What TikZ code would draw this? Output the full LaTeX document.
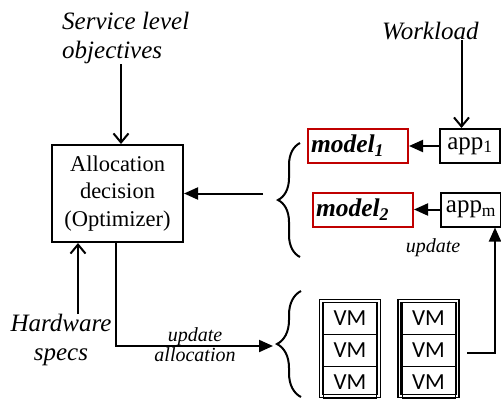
\documentclass[tikz,border=0pt]{standalone}
\usepackage{fontspec}
\setmainfont{Liberation Serif}[ItalicFont={Liberation Serif Italic},BoldItalicFont={Liberation Serif Bold Italic}]
\newfontfamily\vmfont{Carlito}
\usetikzlibrary{arrows.meta,decorations.pathreplacing}
\definecolor{mred}{RGB}{192,0,0}
\begin{document}
\begin{tikzpicture}[x=1pt,y=-1pt,
  lbl/.style={font=\fontsize{25}{29}\selectfont\itshape, inner sep=0pt},
  smalllbl/.style={font=\fontsize{20}{20}\selectfont\itshape, inner sep=0pt, align=center},
  optbox/.style={draw, line width=2pt, minimum width=131pt, minimum height=97pt, inner sep=0pt, align=center, font=\fontsize{22.5}{27.5}\selectfont},
  modelbox/.style={draw=mred, line width=2pt, minimum height=34pt, text width=94pt, inner xsep=3pt, align=left, font=\fontsize{25.5}{25}\selectfont\bfseries\itshape},
  appbox/.style={draw, line width=2pt, minimum width=60pt, minimum height=34pt, inner sep=0pt, font=\fontsize{25}{25}\selectfont},
  vmcell/.style={draw, line width=1pt, minimum width=53pt, minimum height=32pt, inner sep=0pt, font=\vmfont\fontsize{23}{23}\selectfont},
  vmframe/.style={draw, line width=1.4pt, double, double distance=1.4pt, minimum width=58pt, minimum height=95pt, inner sep=0pt},
  openarr/.style={line width=2pt, -{Straight Barb[length=9pt,width=15pt,line width=2pt]}},
  fillarr/.style={line width=2pt, -{Triangle[length=14pt,width=12pt]}},
  bracestyle/.style={line width=2pt, decorate}
]
\useasboundingbox (0,0) rectangle (501,400);

% labels
\node[lbl, align=left, anchor=north west] (slo) at (62,12) {Service level\\objectives};
\node[lbl, anchor=north west] (wl) at (382,22) {Workload};
\node[lbl, align=center, anchor=north] (hw) at (61,314) {Hardware\\specs};

% optimizer
\node[optbox] (opt) at (117.5,193.5) {Allocation\\decision\\(Optimizer)};

% models and apps
\node[modelbox, anchor=north west] (m1) at (307,128) {model\textsubscript{1}};
\node[modelbox, anchor=north west] (m2) at (312,191.5) {model\textsubscript{2}};
\node[appbox, anchor=north west] (a1) at (439,128) {app\textsubscript{1}};
\node[appbox, anchor=north west] (am) at (440,191.5) {app\textsubscript{m}};
\node[smalllbl, anchor=base] (upd) at (433,252) {update};

% VM stacks
\node[vmframe] (s1) at (350,348.5) {};
\node[vmframe] (s2) at (428.5,348.5) {};
\node[vmcell] (v11) at (350,318) {VM};
\node[vmcell] (v12) at (350,350) {VM};
\node[vmcell] (v13) at (350,382) {VM};
\node[vmcell] (v21) at (428.5,318) {VM};
\node[vmcell] (v22) at (428.5,350) {VM};
\node[vmcell] (v23) at (428.5,382) {VM};

% braces
\coordinate (b1top) at (300,143);
\coordinate (b1bot) at (300,257);
\coordinate (b2top) at (301,291);
\coordinate (b2bot) at (301,397);
\draw[bracestyle, decoration={brace, amplitude=22pt}] (b1bot) -- (b1top);
\draw[bracestyle, decoration={brace, amplitude=24pt}] (b2bot) -- (b2top);

% connectors
\draw[openarr] ([xshift=3.5pt]opt.north |- slo.south) -- ([xshift=3.5pt]opt.north);
\draw[openarr] ([xshift=-8.5pt]a1.north |- wl.south) -- ([xshift=-8.5pt]a1.north);
\draw[openarr] ([xshift=-39.5pt]opt.south |- hw.north) -- ([xshift=-39.5pt]opt.south);
\draw[fillarr] (a1.west) -- (m1.east);
\draw[fillarr] (am.west) -- (m2.east);
\coordinate (b1s) at (263,193.5);
\draw[fillarr] (b1s) -- (opt.east);
\coordinate (b2tip) at (273,346);
\draw[fillarr] ([xshift=-1.5pt]opt.south) |- (b2tip);
\node[smalllbl] (ua) at (195,345) {update\\allocation};
\coordinate (vmout) at (467,353);
\draw[fillarr] (vmout) -| ([xshift=24pt]am.south);
\end{tikzpicture}
\end{document}
